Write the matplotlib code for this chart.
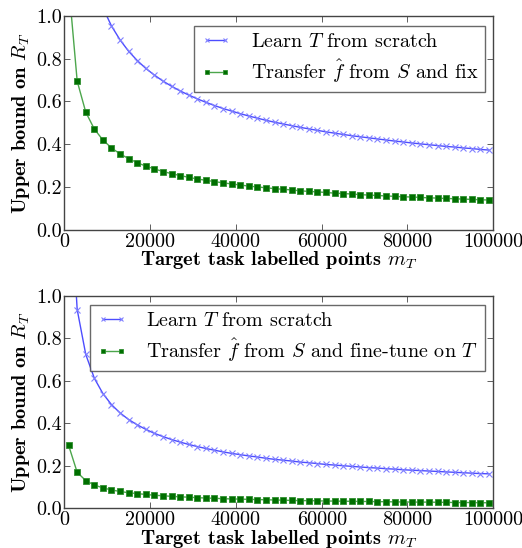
import matplotlib
matplotlib.use("Agg")
import matplotlib.pyplot as plt

plt.rcParams['mathtext.fontset'] = 'cm'
plt.rcParams['font.family'] = 'cmr10'
plt.rcParams['axes.formatter.use_mathtext'] = True

# number of target labelled points (markers every 2000)
m_T = [1000, 3000, 5000, 7000, 9000, 11000, 13000, 15000, 17000, 19000,
       21000, 23000, 25000, 27000, 29000, 31000, 33000, 35000, 37000, 39000,
       41000, 43000, 45000, 47000, 49000, 51000, 53000, 55000, 57000, 59000,
       61000, 63000, 65000, 67000, 69000, 71000, 73000, 75000, 77000, 79000,
       81000, 83000, 85000, 87000, 89000, 91000, 93000, 95000, 97000, 99000]

# top panel
scratch_top = [2.647, 1.657, 1.333, 1.154, 1.037, 0.952, 0.887, 0.834, 0.791, 0.754,
               0.723, 0.695, 0.671, 0.649, 0.630, 0.612, 0.596, 0.581, 0.567, 0.555,
               0.543, 0.532, 0.522, 0.512, 0.503, 0.495, 0.487, 0.479, 0.472, 0.465,
               0.458, 0.452, 0.446, 0.440, 0.435, 0.430, 0.425, 0.420, 0.415, 0.411,
               0.406, 0.402, 0.398, 0.394, 0.390, 0.387, 0.383, 0.380, 0.376, 0.373]
fix_top = [1.149, 0.695, 0.550, 0.471, 0.420, 0.383, 0.355, 0.333, 0.314, 0.298,
           0.285, 0.273, 0.263, 0.254, 0.246, 0.238, 0.232, 0.226, 0.220, 0.215,
           0.210, 0.205, 0.201, 0.197, 0.193, 0.190, 0.187, 0.183, 0.180, 0.178,
           0.175, 0.172, 0.170, 0.168, 0.165, 0.163, 0.161, 0.159, 0.157, 0.155,
           0.154, 0.152, 0.150, 0.149, 0.147, 0.146, 0.144, 0.143, 0.141, 0.140]

# bottom panel
scratch_bot = [1.620, 0.935, 0.724, 0.612, 0.540, 0.488, 0.449, 0.418, 0.393, 0.372,
               0.353, 0.338, 0.324, 0.312, 0.301, 0.291, 0.282, 0.274, 0.266, 0.259,
               0.253, 0.247, 0.242, 0.236, 0.231, 0.227, 0.223, 0.218, 0.215, 0.211,
               0.207, 0.204, 0.201, 0.198, 0.195, 0.192, 0.190, 0.187, 0.185, 0.182,
               0.180, 0.178, 0.176, 0.174, 0.172, 0.170, 0.168, 0.166, 0.164, 0.163]
finetune_bot = [0.297, 0.170, 0.131, 0.110, 0.097, 0.087, 0.080, 0.074, 0.070, 0.066,
                0.062, 0.060, 0.057, 0.055, 0.053, 0.051, 0.049, 0.048, 0.046, 0.045,
                0.044, 0.043, 0.042, 0.041, 0.040, 0.039, 0.038, 0.037, 0.037, 0.036,
                0.035, 0.035, 0.034, 0.034, 0.033, 0.033, 0.032, 0.032, 0.031, 0.031,
                0.030, 0.030, 0.030, 0.029, 0.029, 0.028, 0.028, 0.028, 0.027, 0.027]

xticks = [0, 20000, 40000, 60000, 80000, 100000]
yticks = [0.0, 0.2, 0.4, 0.6, 0.8, 1.0]

fig = plt.figure(figsize=(5.22, 5.48), dpi=100)
ax1 = fig.add_axes([0.1232, 0.5803, 0.8218, 0.391])
ax2 = fig.add_axes([0.1232, 0.0721, 0.8218, 0.3883])

panels = [
    (ax1, scratch_top, fix_top, r'Transfer $\hat{f}$ from $S$ and fix', 0.953),
    (ax2, scratch_bot, finetune_bot,
     r'Transfer $\hat{f}$ from $S$ and fine-tune on $T$', 0.956),
]

for ax, blue, green, lab2, ytop in panels:
    ax.plot(m_T, blue, color='#4d4dff', lw=1.0, marker='x', ms=4.5,
            mew=0.8, mec='#8080ff', label=r'Learn $T$ from scratch')
    ax.plot(m_T, green, color='#4ca64c', lw=1.0, marker='s', ms=3.8,
            mfc='#006f00', mec='#2f8f2f', mew=0.6, label=lab2)
    ax.set_xlim(0, 100000)
    ax.set_ylim(0, 1.0)
    ax.set_xticks(xticks)
    ax.set_yticks(yticks)
    ax.set_xticklabels([str(t) for t in xticks])
    ax.set_yticklabels(['%.1f' % t for t in yticks])
    ax.tick_params(direction='in', top=True, right=True, length=4,
                   width=0.6, color='#444444', labelsize=14.5, pad=2)
    for s in ax.spines.values():
        s.set_color('#444444')
        s.set_linewidth(1.0)
    ax.set_ylabel(r'Upper bound on $R_T$', fontsize=14.7, fontfamily='cmb10', labelpad=3)
    ax.set_xlabel(r'Target task labelled points $m_T$', fontsize=14.7,
                  fontfamily='cmb10', labelpad=-1)
    leg = ax.legend(loc='upper right', bbox_to_anchor=(0.9814, ytop),
                    borderaxespad=0, numpoints=2, fancybox=False, markerscale=0.7,
                    handlelength=1.5, handletextpad=0.95, labelspacing=0.3,
                    borderpad=0.35, prop={'family': 'cmr10', 'size': 14.5})
    leg.get_frame().set_edgecolor('#444444')
    leg.get_frame().set_linewidth(1.0)

fig.savefig('out.png', dpi=100)
